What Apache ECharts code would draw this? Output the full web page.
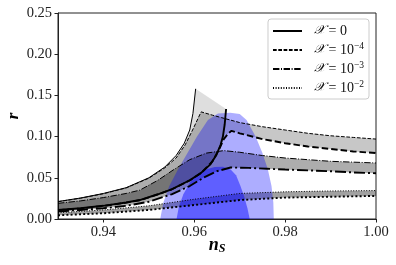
<!DOCTYPE html>
<html><head><meta charset="utf-8">
<script src="https://cdn.jsdelivr.net/npm/echarts@6/dist/echarts.min.js"></script>
<style>html,body{margin:0;padding:0;background:#fff}#c{width:396px;height:265px}</style>
</head><body><div id="c"></div>
<script>
// ---- data (ns, r) ----
const nsTicks = [0.94, 0.96, 0.98, 1.00];
const rTicks = [0, 0.05, 0.10, 0.15, 0.20, 0.25];
const legendNames = ['X0', 'X4', 'X3', 'X2'];

// X = 0
const solidThin = [[0.930,0.0212],[0.935,0.0255],[0.940,0.031],[0.945,0.038],[0.950,0.050],[0.9535,0.063],[0.956,0.077],[0.9578,0.092],[0.9590,0.108],[0.9597,0.128],[0.9603,0.158]];
const solidThick = [[0.930,0.011],[0.935,0.013],[0.940,0.016],[0.945,0.020],[0.948,0.023],[0.952,0.030],[0.955,0.036],[0.959,0.047],[0.9615,0.056],[0.9635,0.066],[0.9648,0.077],[0.9658,0.090],[0.9663,0.100],[0.9667,0.115],[0.9670,0.1335]];
// X = 1e-4
const dashThin = [[0.930,0.0210],[0.935,0.0253],[0.940,0.0307],[0.945,0.0377],[0.950,0.0495],[0.9535,0.062],[0.956,0.074],[0.958,0.090],[0.9598,0.110],[0.9615,0.130],[0.964,0.126],[0.966,0.123],[0.968,0.120],[0.970,0.117],[0.975,0.112],[0.980,0.108],[0.985,0.104],[0.990,0.101],[0.995,0.099],[1.000,0.097]];
const dashThick = [[0.930,0.0108],[0.935,0.0128],[0.940,0.0158],[0.945,0.0198],[0.948,0.0228],[0.952,0.0298],[0.955,0.0358],[0.959,0.0468],[0.9615,0.0558],[0.9640,0.070],[0.9655,0.085],[0.9665,0.097],[0.9675,0.104],[0.9682,0.107],[0.970,0.104],[0.975,0.097],[0.980,0.092],[0.985,0.088],[0.990,0.085],[0.995,0.082],[1.000,0.080]];
// X = 1e-3
const dashdotThin = [[0.930,0.019],[0.935,0.022],[0.940,0.026],[0.945,0.031],[0.948,0.035],[0.952,0.047],[0.9555,0.060],[0.959,0.072],[0.9627,0.080],[0.9665,0.083],[0.970,0.081],[0.975,0.077],[0.980,0.074],[0.985,0.072],[0.990,0.070],[0.995,0.069],[1.000,0.068]];
const dashdotThick = [[0.930,0.009],[0.935,0.011],[0.940,0.013],[0.945,0.016],[0.950,0.021],[0.955,0.030],[0.959,0.040],[0.962,0.050],[0.965,0.058],[0.968,0.0625],[0.972,0.062],[0.976,0.061],[0.980,0.060],[0.985,0.059],[0.990,0.058],[0.995,0.0565],[1.000,0.0555]];
// X = 1e-2
const dotThin = [[0.930,0.0075],[0.940,0.011],[0.950,0.016],[0.960,0.024],[0.970,0.031],[0.980,0.033],[0.990,0.034],[1.000,0.0345]];
const dotThick = [[0.930,0.0045],[0.940,0.007],[0.950,0.011],[0.960,0.017],[0.970,0.023],[0.980,0.026],[0.990,0.027],[1.000,0.028]];

// Observational contours
const contour95 = [[0.9525,0],[0.9532,0.02],[0.9545,0.04],[0.9564,0.06],[0.9585,0.08],[0.9606,0.10],[0.9630,0.12],[0.9652,0.128],[0.9679,0.129],[0.9700,0.1274],[0.9715,0.12],[0.9735,0.10],[0.9750,0.08],[0.9762,0.06],[0.9770,0.04],[0.9774,0.02],[0.9775,0]];
const contour68 = [[0.9561,0],[0.9566,0.015],[0.9576,0.030],[0.9591,0.045],[0.9608,0.055],[0.9627,0.0605],[0.9645,0.063],[0.9663,0.0635],[0.9680,0.060],[0.9692,0.053],[0.9701,0.041],[0.9710,0.027],[0.9717,0.013],[0.9722,0]];

const bandPoly = (a, b) => a.concat(b.slice().reverse());
const bands = [
  {pts: bandPoly(solidThin, solidThick), fill: 'rgba(0,0,0,0.13)'},
  {pts: bandPoly(dashThin, dashThick), fill: 'rgba(0,0,0,0.22)'},
  {pts: bandPoly(dashdotThin, dashdotThick), fill: 'rgba(0,0,0,0.32)'},
  {pts: bandPoly(dotThin, dotThick), fill: 'rgba(0,0,0,0.37)'}
];

function polySeries(pts, fill, z) {
  return {
    type: 'custom', z: z, silent: true, clip: true,
    data: pts,
    renderItem: function (params, api) {
      if (params.dataIndex !== 0) return null;
      return {type: 'polygon', shape: {points: pts.map(p => api.coord(p))}, style: {fill: fill, stroke: 'none'}};
    }
  };
}

const serif = "'Liberation Serif', 'DejaVu Serif', serif";
const mathFont = "'DejaVu Serif', 'DejaVu Sans', serif";

const thinW = 1.0, thickW = 1.9;
const dashA = [3.7, 1.6], dashB = [6.5, 3];
const ddA = [6.4, 1.6, 1, 1.6], ddB = [11, 3, 2, 3];
const dotA = [1, 1.6], dotB = [2, 2.2];

function lineSeries(name, data, width, dash) {
  return {
    type: 'line', name: name, data: data, symbol: 'none', z: 5, silent: true,
    lineStyle: {color: '#000', width: width, type: dash}
  };
}

const series = [];
bands.forEach(b => series.push(polySeries(b.pts, b.fill, 1)));
series.push(polySeries(contour95, 'rgba(0,0,255,0.32)', 2));
series.push(polySeries(contour68, 'rgba(0,0,255,0.45)', 3));
series.push(lineSeries('X0', solidThin, thinW, 'solid'));
series.push(lineSeries('X0', solidThick, thickW, 'solid'));
series.push(lineSeries('X4', dashThin, thinW, dashA));
series.push(lineSeries('X4', dashThick, thickW, dashB));
series.push(lineSeries('X3', dashdotThin, thinW, ddA));
series.push(lineSeries('X3', dashdotThick, thickW, ddB));
series.push(lineSeries('X2', dotThin, thinW, dotA));
series.push(lineSeries('X2', dotThick, thickW, dotB));

const legendLabel = {
  X0: '{m|𝒳}{t| = 0}',
  X4: '{m|𝒳}{t| = 10}{s|−4}',
  X3: '{m|𝒳}{t| = 10}{s|−3}',
  X2: '{m|𝒳}{t| = 10}{s|−2}'
};

const chart = echarts.init(document.getElementById('c'), null, {renderer: 'canvas'});
chart.setOption({
  animation: false,
  backgroundColor: '#fff',
  grid: {left: 58, right: 20, top: 13, bottom: 46, show: true, borderColor: '#222', borderWidth: 1, backgroundColor: 'transparent', outerBoundsMode: 'none', containLabel: false},
  xAxis: {
    type: 'value', min: 0.93, max: 1.00,
    name: '{n|n}{s|S}', nameLocation: 'middle', nameGap: 16, nameMoveOverlap: false,
    nameTextStyle: {rich: {
      n: {fontFamily: serif, fontStyle: 'italic', fontWeight: 'bold', fontSize: 18, color: '#000'},
      s: {fontFamily: serif, fontStyle: 'italic', fontWeight: 'bold', fontSize: 12, color: '#000', padding: [8, 0, 0, 0]}
    }},
    axisLine: {show: true, lineStyle: {color: '#222', width: 1}},
    axisTick: {show: true, length: 3.5, customValues: nsTicks, lineStyle: {color: '#222'}},
    axisLabel: {customValues: nsTicks, formatter: v => v.toFixed(2), fontFamily: serif, fontSize: 14.5, color: '#222', margin: 6},
    splitLine: {show: false}
  },
  yAxis: {
    type: 'value', min: 0, max: 0.25, interval: 0.05,
    name: 'r', nameLocation: 'middle', nameGap: 36, nameRotate: 90, nameMoveOverlap: false,
    nameTextStyle: {fontFamily: serif, fontStyle: 'italic', fontWeight: 'bold', fontSize: 17, color: '#000'},
    axisLine: {show: true, lineStyle: {color: '#222', width: 1}},
    axisTick: {show: true, length: 3.5, lineStyle: {color: '#222'}},
    axisLabel: {formatter: v => v.toFixed(2), fontFamily: serif, fontSize: 14.5, color: '#222', margin: 6},
    splitLine: {show: false}
  },
  legend: {
    data: legendNames, orient: 'vertical', right: 27, top: 19,
    backgroundColor: 'rgba(255,255,255,0.85)', borderColor: '#ccc', borderWidth: 1, borderRadius: 3,
    padding: [5, 5, 4, 4], itemWidth: 29, itemHeight: 10, itemGap: 3,
    itemStyle: {opacity: 0},
    formatter: n => legendLabel[n],
    textStyle: {padding: [0, 0, 0, 7], rich: {
      m: {fontFamily: mathFont, fontStyle: 'italic', fontSize: 13, color: '#111'},
      t: {fontFamily: serif, fontSize: 14, color: '#111'},
      s: {fontFamily: serif, fontSize: 9.5, color: '#111', padding: [0, 0, 8, 0]}
    }}
  },
  series: series
});
</script></body></html>
